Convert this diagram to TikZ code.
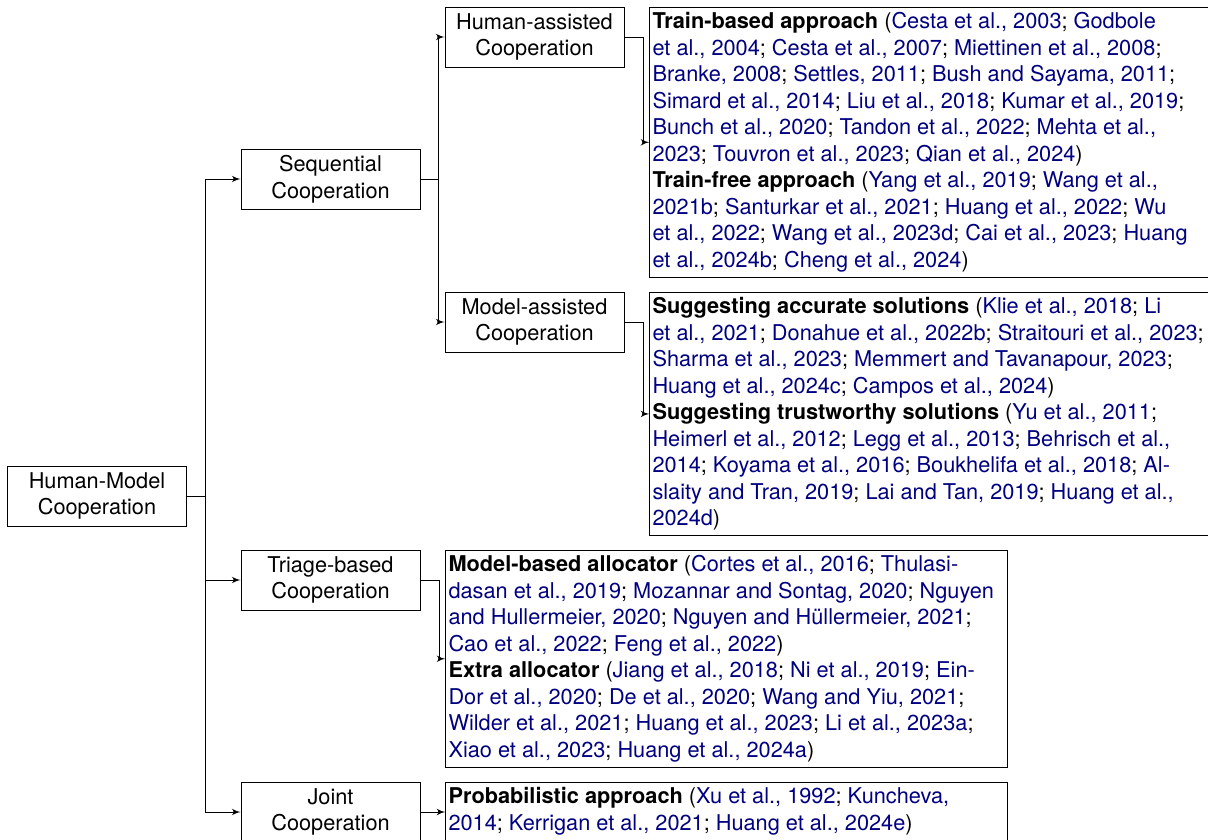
\documentclass[tikz,border=0pt]{standalone}
\usepackage{fontspec}
\setmainfont{TeX Gyre Heros}
\usetikzlibrary{arrows}
\definecolor{citeblue}{rgb}{0,0,0.5}
\newcommand{\bibref}[1]{{\color{citeblue}#1}}
\tikzstyle{catbox} = [rectangle, draw, align=center, minimum width=82.3pt, minimum height=27.6pt, inner sep=0pt]
\tikzstyle{refbox} = [rectangle, draw, text width=256pt, align=justify, anchor=north west, inner xsep=1.25pt, inner ysep=2.5pt]
\tikzstyle{line} = [draw, -latex']

\begin{document}
\begin{tikzpicture}[x=0.46pt, y=-0.46pt, font=\fontsize{10}{12.2}\selectfont]
\useasboundingbox (0,0) rectangle (1208,840);
\node [catbox] (hmc) at (97,496) {Human-Model\\Cooperation};
\node [catbox] (seq) at (330.5,179) {Sequential\\Cooperation};
\node [catbox] (triage) at (330.5,580) {Triage-based\\Cooperation};
\node [catbox] (joint) at (330.5,812) {Joint\\Cooperation};
\node [catbox] (human) at (534.5,37) {Human-assisted\\Cooperation};
\node [catbox] (model) at (534.5,322) {Model-assisted\\Cooperation};
\node [refbox] (humanrefs) at ([xshift=11.5pt]human.north east) {\textbf{Train-based approach} (\bibref{Cesta et al., 2003}; \bibref{Godbole}\\
\bibref{et al., 2004}; \bibref{Cesta et al., 2007}; \bibref{Miettinen et al., 2008};\\
\bibref{Branke, 2008}; \bibref{Settles, 2011}; \bibref{Bush and Sayama, 2011};\\
\bibref{Simard et al., 2014}; \bibref{Liu et al., 2018}; \bibref{Kumar et al., 2019};\\
\bibref{Bunch et al., 2020}; \bibref{Tandon et al., 2022}; \bibref{Mehta et al.,}\\
\bibref{2023}; \bibref{Touvron et al., 2023}; \bibref{Qian et al., 2024})\\
\textbf{Train-free approach} (\bibref{Yang et al., 2019}; \bibref{Wang et al.,}\\
\bibref{2021b}; \bibref{Santurkar et al., 2021}; \bibref{Huang et al., 2022}; \bibref{Wu}\\
\bibref{et al., 2022}; \bibref{Wang et al., 2023d}; \bibref{Cai et al., 2023}; \bibref{Huang}\\
\bibref{et al., 2024b}; \bibref{Cheng et al., 2024})};
\node [refbox] (modelrefs) at ([xshift=11.5pt]model.north east) {\textbf{Suggesting accurate solutions} (\bibref{Klie et al., 2018}; \bibref{Li}\\
\bibref{et al., 2021}; \bibref{Donahue et al., 2022b}; \bibref{Straitouri et al., 2023};\\
\bibref{Sharma et al., 2023}; \bibref{Memmert and Tavanapour, 2023};\\
\bibref{Huang et al., 2024c}; \bibref{Campos et al., 2024})\\
\textbf{Suggesting trustworthy solutions} (\bibref{Yu et al., 2011};\\
\bibref{Heimerl et al., 2012}; \bibref{Legg et al., 2013}; \bibref{Behrisch et al.,}\\
\bibref{2014}; \bibref{Koyama et al., 2016}; \bibref{Boukhelifa et al., 2018}; \bibref{Al-}\\
\bibref{slaity and Tran, 2019}; \bibref{Lai and Tan, 2019}; \bibref{Huang et al.,}\\
\bibref{2024d})};
\node [refbox] (triagerefs) at ([xshift=11.5pt]triage.north east) {\textbf{Model-based allocator} (\bibref{Cortes et al., 2016}; \bibref{Thulasi-}\\
\bibref{dasan et al., 2019}; \bibref{Mozannar and Sontag, 2020}; \bibref{Nguyen}\\
\bibref{and Hullermeier, 2020}; \bibref{Nguyen and Hüllermeier, 2021};\\
\bibref{Cao et al., 2022}; \bibref{Feng et al., 2022})\\
\textbf{Extra allocator} (\bibref{Jiang et al., 2018}; \bibref{Ni et al., 2019}; \bibref{Ein-}\\
\bibref{Dor et al., 2020}; \bibref{De et al., 2020}; \bibref{Wang and Yiu, 2021};\\
\bibref{Wilder et al., 2021}; \bibref{Huang et al., 2023}; \bibref{Li et al., 2023a};\\
\bibref{Xiao et al., 2023}; \bibref{Huang et al., 2024a})};
\node [refbox] (jointrefs) at ([xshift=11.5pt]joint.north east) {\textbf{Probabilistic approach} (\bibref{Xu et al., 1992}; \bibref{Kuncheva,}\\
\bibref{2014}; \bibref{Kerrigan et al., 2021}; \bibref{Huang et al., 2024e})};
% trunk
\path[line] (hmc.east) -- ++(18.5,0) |- (seq.west);
\path[line] (hmc.east) -- ++(18.5,0) |- (triage.west);
\path[line] (hmc.east) -- ++(18.5,0) |- (joint.west);
\path[line] (seq.east) -- ++(18,0) |- (human.west);
\path[line] (seq.east) -- ++(18,0) |- (model.west);
% to the references
\path[line] (human.east) -- ++(19,0) |- (humanrefs.west);
\path[line] (model.east) -- ++(19,0) |- (modelrefs.west);
\path[line] (triage.east) -- ++(19,0) |- (triagerefs.west);
\path[line] (joint.east) -- (joint.east -| jointrefs.west);
\end{tikzpicture}
\end{document}
